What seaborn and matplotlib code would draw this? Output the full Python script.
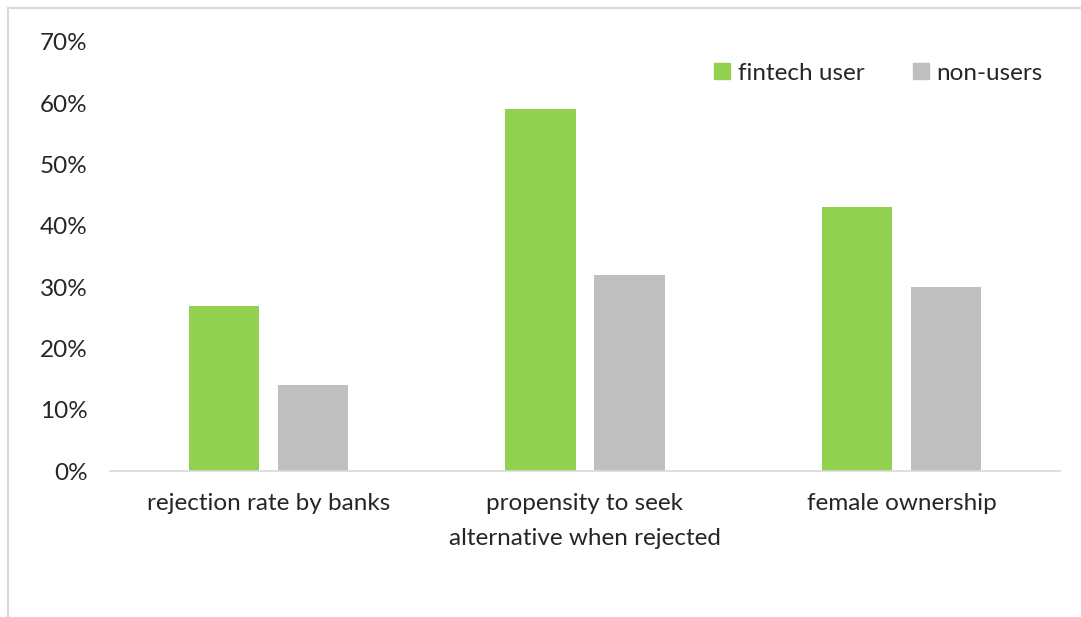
import matplotlib
matplotlib.use("Agg")
import matplotlib.pyplot as plt
import seaborn as sns
import pandas as pd
from matplotlib.lines import Line2D
from matplotlib.ticker import PercentFormatter

categories = ["rejection rate by banks", "propensity to seek\nalternative when rejected", "female ownership"]
series_names = ["fintech user", "non-users"]
fintech_user = [27, 59, 43]
non_users = [14, 32, 30]
yticks = [0, 10, 20, 30, 40, 50, 60, 70]

df = pd.DataFrame({
    "category": categories * 2,
    "group": [series_names[0]] * 3 + [series_names[1]] * 3,
    "value": fintech_user + non_users,
})

sns.set_theme(style="white")
plt.rcParams["font.family"] = ["Lato", "DejaVu Sans"]

FS = 17.5
fig = plt.figure(figsize=(10.81, 6.17), dpi=100)
ax = fig.add_axes([110/1081, 1 - 471/617, 950/1081, (471 - 42)/617])

sns.barplot(data=df, x="category", y="value", hue="group",
            palette={"fintech user": "#92D050", "non-users": "#BFBFBF"},
            width=0.562, gap=0.213, saturation=1, ax=ax, legend=False,
            linewidth=0)

ax.set_ylim(0, 70)
ax.set_yticks(yticks)
ax.yaxis.set_major_formatter(PercentFormatter(decimals=0))
ax.set_xlim(-0.5, 2.5)
ax.set_xlabel("")
ax.set_ylabel("")
for s in ["top", "right", "left"]:
    ax.spines[s].set_visible(False)
ax.spines["bottom"].set_color("#D9D9D9")
ax.spines["bottom"].set_linewidth(1.2)
ax.tick_params(axis="both", length=0, labelsize=FS, colors="#262626")
ax.tick_params(axis="y", pad=16)
ax.tick_params(axis="x", pad=16)
for lab in ax.get_xticklabels():
    lab.set_linespacing(1.8)

handles = [Line2D([], [], marker="s", linestyle="", markersize=12, color=c)
           for c in ["#92D050", "#BFBFBF"]]
fig.legend(handles, series_names, loc="center left", bbox_to_anchor=(698/1081, 1 - 73/617),
           ncol=2, frameon=False, fontsize=FS, handletextpad=0.15, columnspacing=1.8,
           labelcolor="#262626", handlelength=1.0, borderpad=0)

# chart border (left and top visible)
fig.add_artist(Line2D([8/1081, 8/1081], [0, 1 - 8/617], transform=fig.transFigure, color="#D9D9D9", lw=1.5))
fig.add_artist(Line2D([8/1081, 1], [1 - 8/617, 1 - 8/617], transform=fig.transFigure, color="#D9D9D9", lw=1.5))

fig.savefig("out.png", dpi=100)
